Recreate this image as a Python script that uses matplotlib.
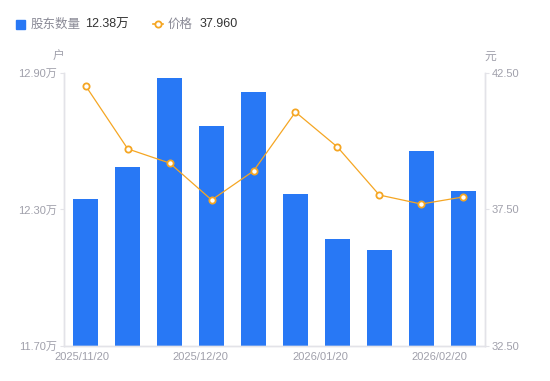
import matplotlib.pyplot as plt
import numpy as np

plt.rcParams['font.family'] = ['Liberation Sans', 'Noto Sans CJK SC', 'DejaVu Sans']

# data
holders = [12.346, 12.487, 12.878, 12.667, 12.816, 12.368, 12.170, 12.122, 12.557, 12.381]  # 万户
price = [42.02, 39.72, 39.20, 37.85, 38.91, 41.07, 39.79, 38.03, 37.70, 37.96]
date_labels = ['2025/11/20', '2025/12/20', '2026/01/20', '2026/02/20']
left_ticks = [11.70, 12.30, 12.90]
right_ticks = [32.50, 37.50, 42.50]

blue = '#2878f5'
orange = '#f5a623'
grey = '#a0a0ab'
axis_col = '#e3e3e8'

fig = plt.figure(figsize=(5.5, 3.81), dpi=100)
ax = fig.add_axes([0.1164, 0.0919, 0.7654, 0.7165])
x = np.arange(len(holders))
ax.bar(x, holders, width=0.6, color=blue, zorder=2)
ax.set_ylim(left_ticks[0], left_ticks[-1])
ax.set_xlim(-0.52, len(holders) - 0.48)
ax.set_yticks(left_ticks)
ax.set_yticklabels([f'{v:.2f}万' for v in left_ticks])

ax2 = ax.twinx()
ax2.plot(x, price, color=orange, lw=0.9, marker='o', ms=4.5,
         mfc='white', mec=orange, mew=1.3, zorder=3)
ax2.set_ylim(right_ticks[0], right_ticks[-1])
ax2.set_yticks(right_ticks)
ax2.set_yticklabels([f'{v:.2f}' for v in right_ticks])

ax.set_xticks(np.linspace(-0.1, 8.43, len(date_labels)))
ax.set_xticklabels(date_labels)

for a in (ax, ax2):
    for s in a.spines.values():
        s.set_color(axis_col)
        s.set_linewidth(1)
    a.spines['top'].set_visible(False)
    a.tick_params(colors=grey, labelsize=8, length=3, width=0.8, pad=2)
    a.tick_params(axis='y', color=axis_col)
ax.tick_params(axis='x', length=0, pad=4)

fig.text(0.106, 0.850, '户', color=grey, fontsize=8.5, ha='center', va='center')
fig.text(0.892, 0.850, '元', color=grey, fontsize=8.5, ha='center', va='center')

# legend row
fig.patches.append(plt.Rectangle((0.029, 0.925), 0.016, 0.023, color=blue,
                                 transform=fig.transFigure, figure=fig))
fig.text(0.056, 0.936, '股东数量', color='#8a8a96', fontsize=9, va='center')
fig.text(0.155, 0.936, f'{holders[-1]:.2f}万', color='#333333', fontsize=9, va='center')
fig.lines.append(plt.Line2D([0.279, 0.297], [0.936, 0.936], color=orange, lw=1.2,
                            transform=fig.transFigure))
fig.lines.append(plt.Line2D([0.288], [0.936], color=orange, marker='o', ms=4.5,
                            mfc='white', mew=1.3, transform=fig.transFigure))
fig.text(0.305, 0.936, '价格', color='#8a8a96', fontsize=9, va='center')
fig.text(0.362, 0.936, f'{price[-1]:.3f}', color='#333333', fontsize=9, va='center')

fig.savefig('out.png', dpi=100)
